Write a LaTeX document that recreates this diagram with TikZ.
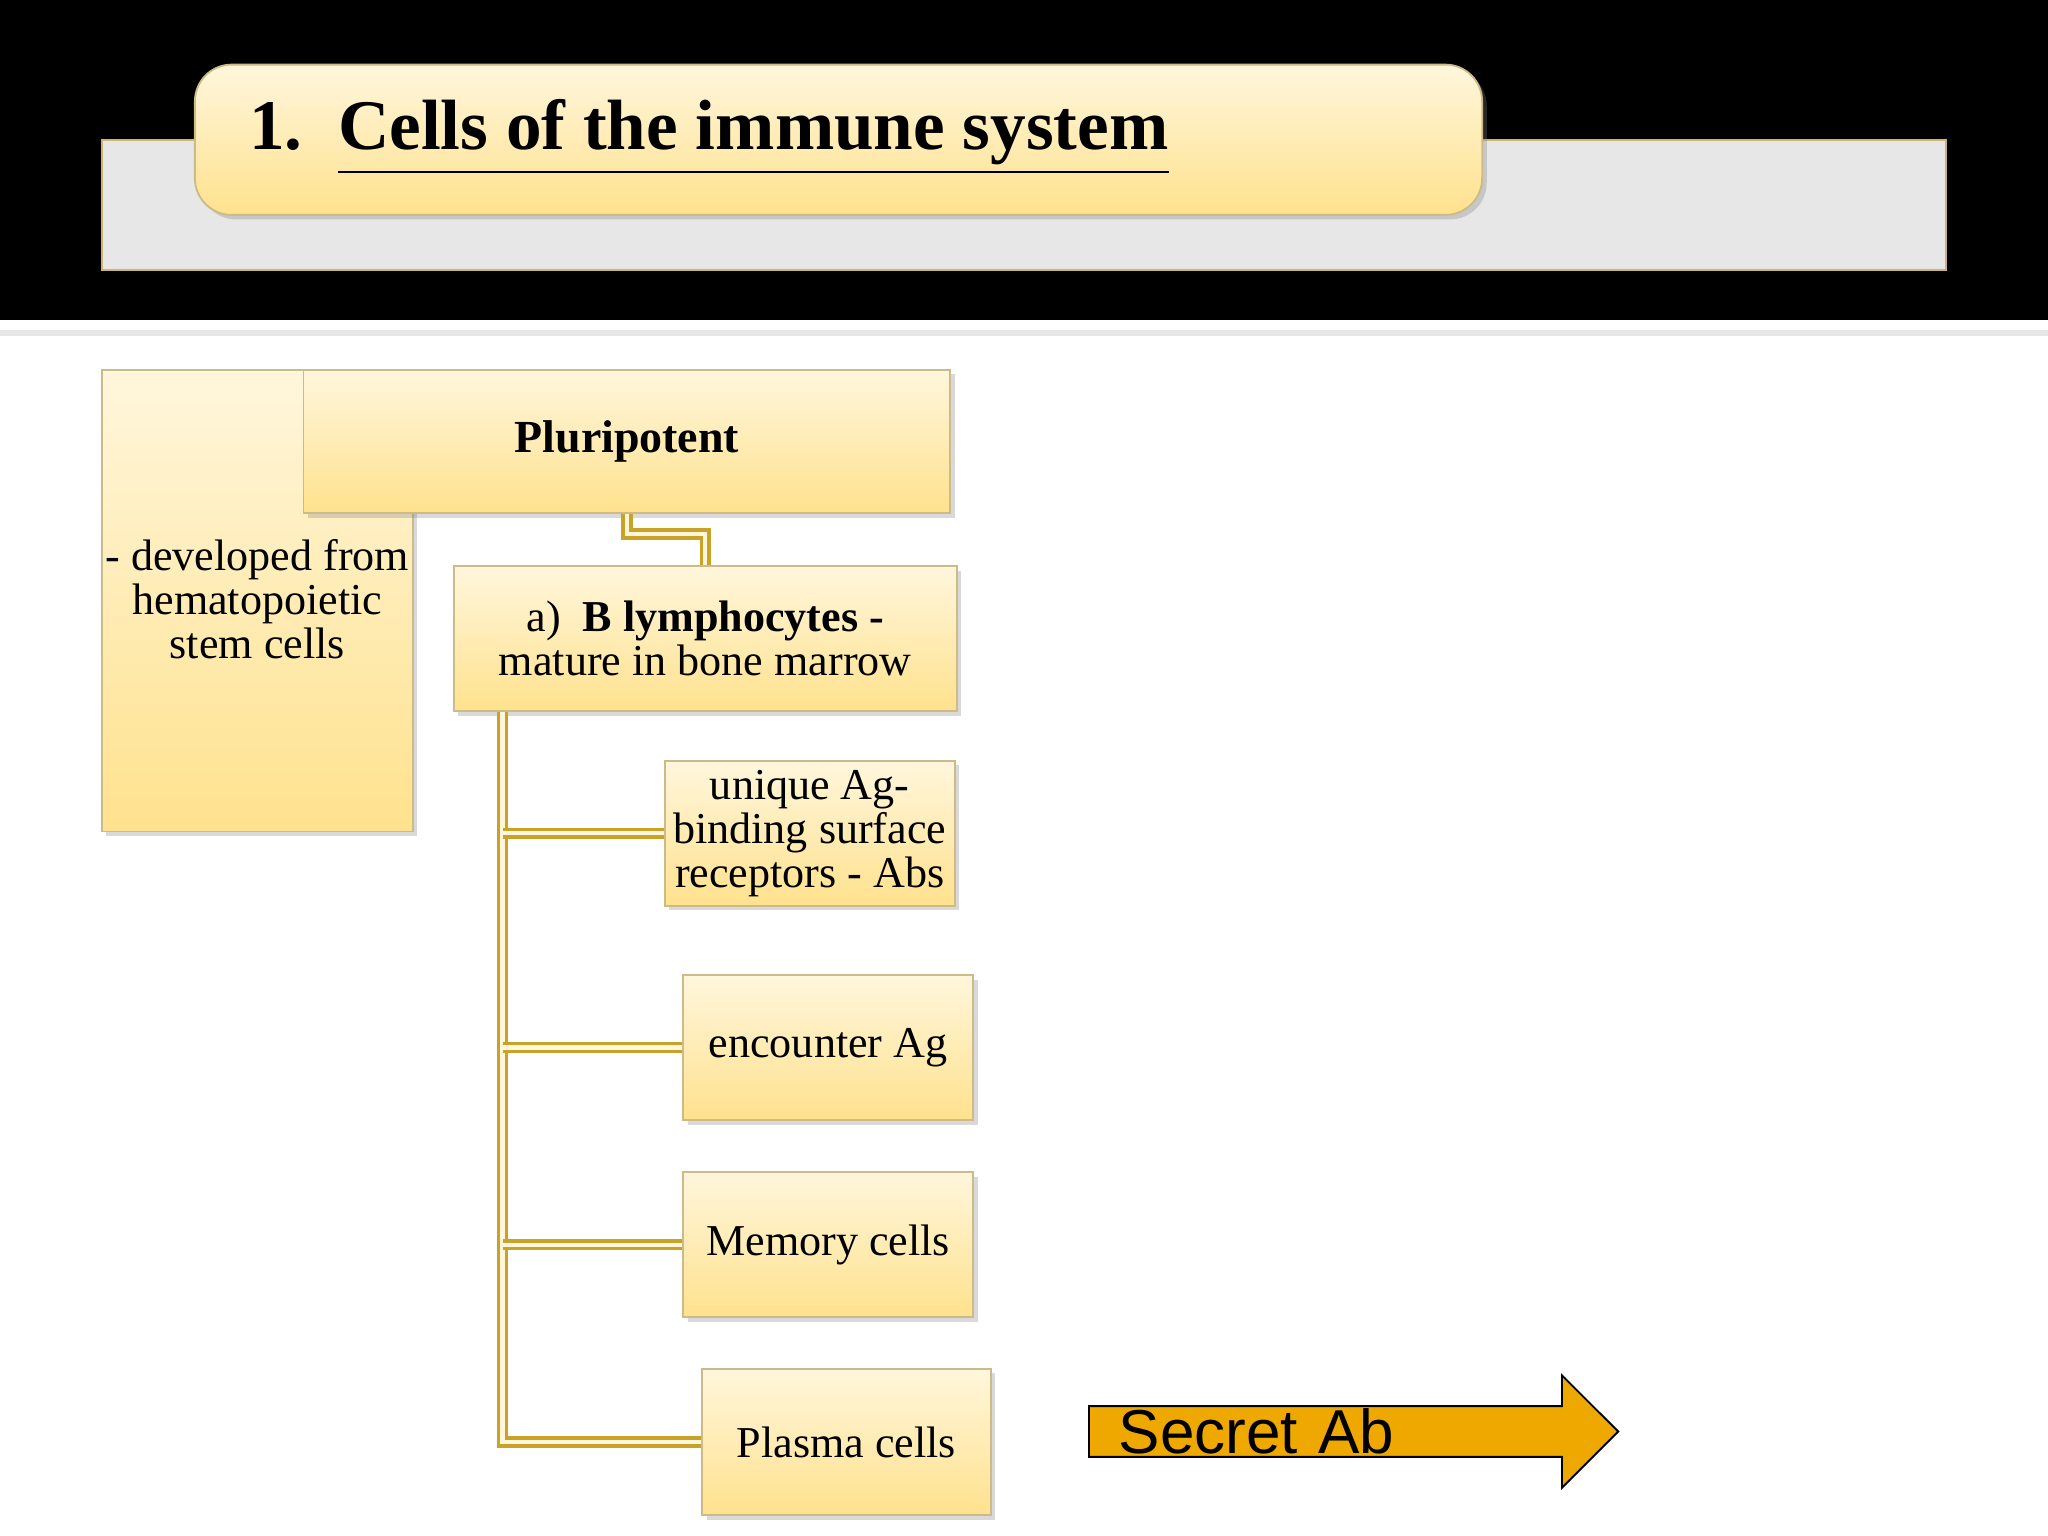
\documentclass[tikz,border=0pt]{standalone}
\usepackage{fontspec}
\setmainfont{Liberation Serif}
\newfontfamily\sansf{Liberation Sans}
\usetikzlibrary{shadows,shapes.arrows}
\definecolor{paleyel}{HTML}{FFF6DC}
\definecolor{deepyel}{HTML}{FFE28E}
\definecolor{goldline}{HTML}{C9A227}
\definecolor{arrowor}{HTML}{EFA800}
\definecolor{bandgrey}{HTML}{E6E7E6}
\tikzset{
  box/.style={rectangle, draw=deepyel!60!gray, top color=paleyel, bottom color=deepyel,
    drop shadow={shadow xshift=1pt, shadow yshift=-1pt, opacity=0.3},
    align=center, inner sep=1pt, font=\fontsize{9.6}{9.6}\selectfont},
  link/.style={draw=goldline, double=paleyel, double distance=0.9pt, line width=0.8pt}
}
\begin{document}
\begin{tikzpicture}[x=0.01cm, y=-0.01cm]
\useasboundingbox (0,0) rectangle (1568,1176);
% header band
\fill[black] (0,0) rectangle (1568,245);
\fill[bandgrey] (0,253) rectangle (1568,257);
\filldraw[fill=bandgrey, draw=deepyel!80!black] (78,107) rectangle (1490,207);
\node[box, rounded corners=8pt, minimum width=9.85cm, minimum height=1.15cm]
  (title) at (642,107) {};
\node[anchor=west, inner sep=0pt, font=\fontsize{15.5}{17}\bfseries\selectfont]
  (titletext) at (190,105) {1.\ \ \underline{Cells of the immune system}};
% boxes
\node[box, minimum width=2.38cm, minimum height=3.53cm] (stem) at (197,460) {};
\node[align=center, inner sep=0pt, font=\fontsize{9.6}{9.6}\selectfont]
  (stemtext) at (197,459) {- developed from\\hematopoietic\\stem cells};
\node[box, minimum width=4.95cm, minimum height=1.1cm, font=\fontsize{10}{10}\bfseries\selectfont]
  (pluri) at (480,338) {Pluripotent};
\node[box, minimum width=3.85cm, minimum height=1.11cm]
  (blym) at (540,489) {a)\ \ \textbf{B lymphocytes -}\\mature in bone marrow};
\node[box, minimum width=2.22cm, minimum height=1.11cm]
  (uniq) at (620,638) {unique Ag-\\binding surface\\receptors - Abs};
\node[box, minimum width=2.22cm, minimum height=1.11cm]
  (enc) at (634,802) {encounter Ag};
\node[box, minimum width=2.22cm, minimum height=1.11cm]
  (mem) at (634,953) {Memory cells};
\node[box, minimum width=2.21cm, minimum height=1.12cm]
  (plasma) at (648,1104) {Plasma cells};
% connectors
\draw[link] (pluri.south) -- ++(0,15) -| (blym.north);
\draw[link] (blym.south west) ++(38,0) |- (plasma.west);
\foreach \n in {uniq,enc,mem}
  \draw[link] (385,0 |- \n.west) -- (\n.west);
% arrow
\node[single arrow, draw=black, fill=arrowor, minimum width=0.86cm, minimum height=4.05cm,
      single arrow head extend=0.22cm, single arrow tip angle=90, inner sep=0pt,
      anchor=west, text width=3.4cm, align=left, font=\sansf\fontsize{13.5}{14}\selectfont]
  (secret) at (833,1096) {Secret Ab};
\end{tikzpicture}
\end{document}
